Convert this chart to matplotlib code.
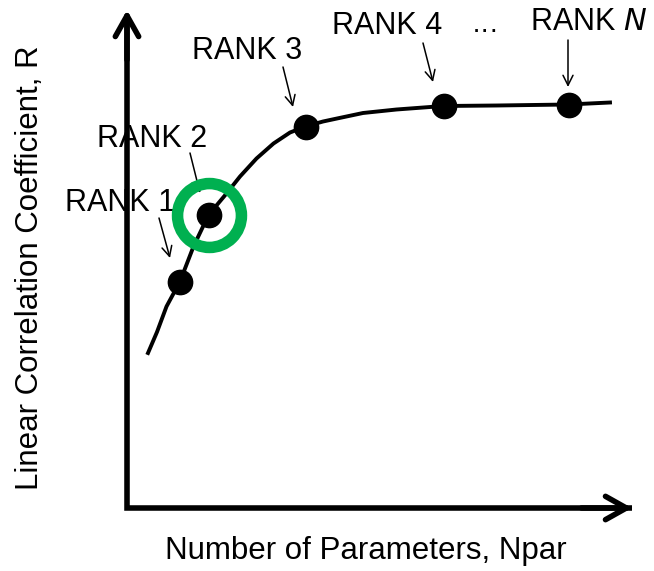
import matplotlib
matplotlib.use("Agg")
import matplotlib.pyplot as plt

plt.rcParams['font.family'] = ['Liberation Sans', 'DejaVu Sans']

# schematic curve R(Npar)
curve_npar = [0.42, 0.60, 0.79, 1.06, 1.33, 1.63, 1.99, 2.26, 2.59, 2.93,
              3.26, 3.57, 3.92, 4.20, 4.72, 5.39, 6.33, 7.39, 8.83, 9.66]
curve_r = [0.310, 0.352, 0.403, 0.453, 0.523, 0.586, 0.629, 0.663, 0.699, 0.729,
           0.751, 0.763, 0.773, 0.779, 0.790, 0.797, 0.804, 0.805, 0.807, 0.811]

# ranked models
rank_labels = ['RANK 1', 'RANK 2', 'RANK 3', 'RANK 4', 'RANK $\\mathit{N}$']
rank_npar = [1.06, 1.63, 3.57, 6.33, 8.83]
rank_r = [0.453, 0.586, 0.763, 0.804, 0.807]
selected = 1  # RANK 2 circled

# label centres and arrow start/end for each rank
label_pos = [(-0.14, 0.610), (0.50, 0.738), (2.40, 0.914), (5.20, 0.964), (9.24, 0.972)]
arrow_from = [(0.64, 0.580), (1.26, 0.710), (3.12, 0.882), (5.92, 0.930), (8.82, 0.936)]
arrow_to = [(0.86, 0.500), (1.46, 0.630), (3.32, 0.802), (6.12, 0.852), (8.82, 0.842)]

fig = plt.figure(figsize=(6.54, 5.71), dpi=100)
ax = fig.add_axes([127 / 654, 63 / 571, 505 / 654, 498 / 571])
ax.set_xlim(0, 10.1)
ax.set_ylim(0, 0.996)
ax.axis('off')

# axes drawn as arrows
ax.plot([0, 0, 1], [0.98, 0, 0], transform=ax.transAxes, color='black', lw=4,
        solid_joinstyle='miter', solid_capstyle='butt', clip_on=False)
for tip, start in [((1, 0), (0.9, 0)), ((0, 1), (0, 0.9))]:
    ax.annotate('', xy=tip, xytext=start, xycoords='axes fraction',
                arrowprops=dict(arrowstyle='->,head_length=0.75,head_width=0.42',
                                lw=4, color='black', mutation_scale=20,
                                shrinkA=0, shrinkB=0))

ax.plot(curve_npar, curve_r, color='black', lw=2.8, zorder=3,
        solid_joinstyle='round')
ax.plot(rank_npar, rank_r, 'o', color='black', markersize=17.5, zorder=4)
ax.plot(rank_npar[selected], rank_r[selected], 'o', markerfacecolor='none',
        markeredgecolor='#00b050', markersize=46, markeredgewidth=8.3, zorder=5)

for lab, pos, a0, a1 in zip(rank_labels, label_pos, arrow_from, arrow_to):
    ax.text(pos[0], pos[1], lab, fontsize=22, ha='center', va='center', clip_on=False)
    ax.annotate('', xy=a1, xytext=a0,
                arrowprops=dict(arrowstyle='->,head_length=0.6,head_width=0.3',
                                lw=1.1, color='black', mutation_scale=12,
                                shrinkA=0, shrinkB=0))
ax.text(7.16, 0.955, '···', fontsize=20, ha='center', va='center')

fig.text(366 / 654, 1 - 551 / 571, 'Number of Parameters, Npar', fontsize=22.5,
         ha='center', va='center')
fig.text(30 / 654, 1 - 268 / 571, 'Linear Correlation Coefficient, R', fontsize=22.5,
         ha='center', va='center', rotation=90)

fig.savefig('out.png', dpi=100)
